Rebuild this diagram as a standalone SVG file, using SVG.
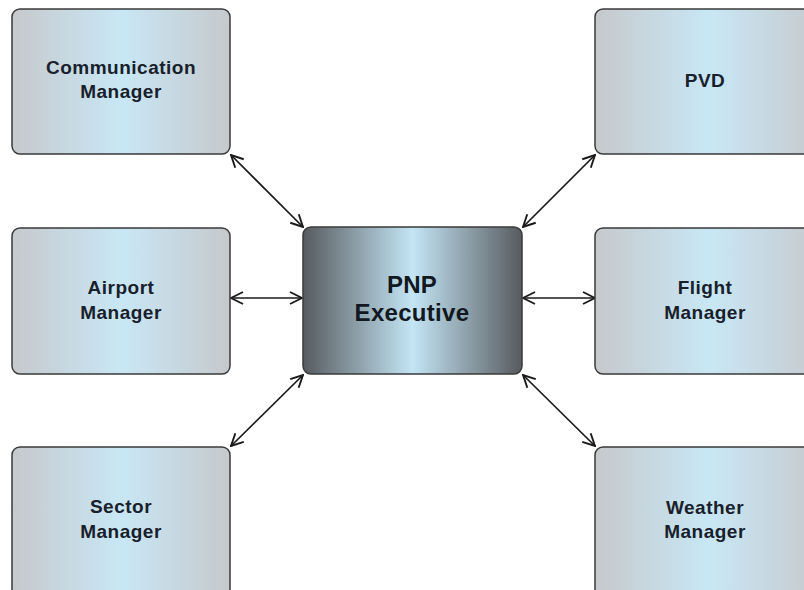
<svg xmlns="http://www.w3.org/2000/svg" width="804" height="590" viewBox="0 0 804 590">
<defs>
<linearGradient id="side" x1="0" y1="0" x2="1" y2="0">
<stop offset="0" stop-color="#c6c9cc"/>
<stop offset="0.5" stop-color="#c8e7f5"/>
<stop offset="1" stop-color="#c6c9cc"/>
</linearGradient>
<linearGradient id="center" x1="0" y1="0" x2="1" y2="0">
<stop offset="0" stop-color="#575b5f"/>
<stop offset="0.5" stop-color="#c4e5f5"/>
<stop offset="1" stop-color="#575b5f"/>
</linearGradient>
<marker id="arr" viewBox="0 0 14 14" refX="13" refY="7" markerWidth="14" markerHeight="14" markerUnits="userSpaceOnUse" orient="auto-start-reverse">
<path d="M1,1 L13,7 L1,13" fill="none" stroke="#1a1a1a" stroke-width="1.9"/>
</marker>
</defs>
<style>
.box{fill:url(#side);stroke:#3a3a3a;stroke-width:1.5}
.ctr{fill:url(#center);stroke:#3a3a3a;stroke-width:1.5}
.t{font-family:"Liberation Sans",Arial,sans-serif;font-weight:bold;font-size:19px;letter-spacing:0.5px;fill:#18212b;text-anchor:middle}
.tc{font-family:"Liberation Sans",Arial,sans-serif;font-weight:bold;font-size:24px;letter-spacing:0.3px;fill:#111820;text-anchor:middle}
.c{stroke:#1a1a1a;stroke-width:1.7;fill:none;marker-start:url(#arr);marker-end:url(#arr)}
</style>
<rect width="804" height="590" fill="#ffffff"/>
<g id="connectors">
<line class="c" x1="231" y1="155" x2="303" y2="227"/>
<line class="c" x1="231" y1="298" x2="302" y2="298"/>
<line class="c" x1="231" y1="446" x2="303" y2="375"/>
<line class="c" x1="595" y1="155" x2="523" y2="227"/>
<line class="c" x1="595" y1="298" x2="523" y2="298"/>
<line class="c" x1="595" y1="446" x2="523" y2="375"/>
</g>
<g id="comm">
<rect class="box" x="12" y="9" width="218" height="145" rx="8"/>
<text class="t" x="121" y="74">Communication</text>
<text class="t" x="121" y="98">Manager</text>
</g>
<g id="airport">
<rect class="box" x="12" y="228" width="218" height="146" rx="8"/>
<text class="t" x="121" y="294">Airport</text>
<text class="t" x="121" y="319">Manager</text>
</g>
<g id="sector">
<rect class="box" x="12" y="447" width="218" height="160" rx="8"/>
<text class="t" x="121" y="513">Sector</text>
<text class="t" x="121" y="538">Manager</text>
</g>
<g id="pnp">
<rect class="ctr" x="303" y="227" width="219" height="147" rx="8"/>
<text class="tc" x="412" y="293">PNP</text>
<text class="tc" x="412" y="321">Executive</text>
</g>
<g id="pvd">
<rect class="box" x="595" y="9" width="230" height="145" rx="8"/>
<text class="t" x="705" y="87">PVD</text>
</g>
<g id="flight">
<rect class="box" x="595" y="228" width="230" height="146" rx="8"/>
<text class="t" x="705" y="294">Flight</text>
<text class="t" x="705" y="319">Manager</text>
</g>
<g id="weather">
<rect class="box" x="595" y="447" width="230" height="160" rx="8"/>
<text class="t" x="705" y="514">Weather</text>
<text class="t" x="705" y="538">Manager</text>
</g>
</svg>
